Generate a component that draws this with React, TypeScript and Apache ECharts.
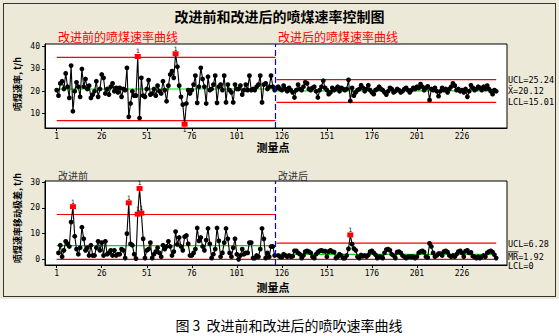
import React, { useEffect, useRef } from 'react';
import * as echarts from 'echarts';

// ---- tick values ----
const xTicks = [1, 26, 51, 76, 101, 126, 151, 176, 201, 226];
const rateTicks = [10, 20, 30, 40];
const mrTicks = [0, 10, 20, 30];

// ---- individual values (t/h), points 1..122 before improvement ----
const beforeRate = [
  20.5, 18, 23.5, 24.5, 21, 28, 22, 17, 31.5, 11,
  20, 24, 22, 17.5, 30, 22, 25.5, 21, 22.5, 17,
  18.5, 20, 24.5, 17.5, 21, 27.5, 26, 19, 21, 18.5,
  22, 23.5, 20, 21.5, 19.5, 21.5, 17.5, 21, 20.5, 30.5,
  8.5, 14.5, 20, 18, 18, 35.6, 8, 26, 18, 17.5,
  21, 25, 18.5, 19, 21, 18, 22.5, 20, 19, 24.5,
  20.5, 15.5, 22.5, 27.5, 29, 26, 36.8, 31, 22.5, 17.5,
  14, 5.2, 14.5, 20.5, 19, 20.5, 23, 27, 14.8, 22,
  30.5, 25.5, 22, 14.5, 26.5, 20.5, 21, 23, 27, 14.8,
  22, 23, 20.5, 27, 15, 23, 20.5, 19.5, 15, 23,
  21, 21, 22.5, 18.5, 20.5, 23, 20.5, 27, 20.5, 21,
  20.5, 22, 23, 27, 15, 23, 23.5, 21, 22, 27,
  22, 20.5,
];

// ---- individual values, points 123..245 after improvement ----
const afterRate = [
  21.5, 22, 21, 20.5, 22.5, 21, 20, 21.5, 20.5, 19.5,
  17.2, 20.5, 23, 21, 20.5, 22, 24, 23.5, 21, 20.5,
  21.5, 22, 20, 17.2, 20.5, 22, 24.7, 21.5, 20.5, 18.7,
  19.5, 21.5, 20.5, 21, 22, 20, 21.5, 21, 20.5, 21,
  25.1, 15.6, 21.5, 18, 19.5, 20.5, 21, 22.7, 21.5, 20,
  21, 22.7, 20.5, 19.5, 18.7, 20.5, 21, 22, 21, 20.5,
  19.5, 18.5, 20, 21.5, 21, 19.5, 20, 21, 20.5, 19.5,
  20, 21, 21.5, 20.5, 19.5, 20.5, 21.5, 21, 22, 21.5,
  23.2, 22, 20.5, 21.5, 22.2, 16, 21, 20.5, 21.5, 20,
  17.8, 20, 21.5, 20.5, 21, 19.5, 21, 22, 23.5, 22.5,
  20.5, 21, 20, 20.5, 19.5, 21, 17.5, 20, 22.7, 21.5,
  20.5, 21, 22, 21.5, 20.5, 22, 21, 22.5, 21, 20,
  18.7, 20.5, 20,
];

// ---- moving ranges ----
const beforeMR = [
  null, 2.5, 5.5, 1, 3.5, 7, 6, 5, 14.5, 20.5,
  9, 4, 2, 4.5, 12.5, 8, 3.5, 4.5, 1.5, 5.5,
  1.5, 1.5, 4.5, 7, 3.5, 6.5, 1.5, 7, 2, 2.5,
  3.5, 1.5, 3.5, 1.5, 2, 2, 4, 3.5, 0.5, 10,
  22, 6, 5.5, 2, 0.3, 17.6, 27.6, 18, 8, 0.5,
  3.5, 4, 6.5, 0.5, 2, 3, 4.5, 2.5, 1, 5.5,
  4, 5, 7, 5, 1.5, 3, 10.8, 5.8, 8.5, 5,
  3.5, 8.8, 9.3, 6, 1.5, 1.5, 2.5, 4, 12.2, 7.2,
  8.5, 5, 3.5, 7.5, 12, 6, 0.5, 2, 4, 12.2,
  7.2, 1, 2.5, 6.5, 12, 8, 2.5, 1, 4.5, 8,
  2, 0, 1.5, 4, 2, 2.5, 2.5, 6.5, 6.5, 0.5,
  0.5, 1.5, 1, 4, 12, 8, 0.5, 2.5, 1, 5,
  5, 1.5,
];
const afterMR = [
  null, 1.5, 1, 0.8, 2, 1.5, 1, 1.5, 1, 1.2,
  3.3, 3.3, 2.5, 2, 0.5, 1.5, 3, 3.3, 3, 2.5,
  1, 0.5, 2, 2.8, 3.3, 3.5, 3.2, 3.2, 1, 3,
  3.5, 3, 2.8, 0.5, 1, 2, 1.5, 0.5, 0.5, 1.5,
  4.1, 9.5, 5.9, 4.2, 3.5, 1, 0.5, 1.7, 1.2, 1.5,
  1, 1.7, 3, 3.3, 2.5, 1.8, 0.5, 1, 1, 0.5,
  2.5, 3.8, 4, 3.5, 2, 1.5, 0.5, 2.8, 3, 2.5,
  1.5, 1, 0.5, 1, 1, 1, 1, 0.5, 1, 2.5,
  3, 3.3, 2.8, 1, 0.7, 6.2, 5, 2.5, 1, 1.5,
  2.2, 2.2, 1.5, 3, 3.3, 2.8, 1.5, 1, 1.5, 1,
  2, 3, 3.3, 2.5, 1, 3.2, 3.5, 2.5, 2.7, 1.2,
  1, 0.5, 1, 0.5, 1, 1.5, 1, 2.5, 3, 3.3,
  2.8, 1.8, 0.5,
];

// ---- control limits [LCL, CL, UCL] ----
const rateLimitsBefore = [6.8, 21.0, 35.2];
const rateLimitsAfter = [15.01, 20.12, 25.24];
const mrLimitsBefore = [0, 5.34, 17.45];
const mrLimitsAfter = [0, 1.92, 6.28];
const afterStart = 123;
const stageBreak = 122.5;

const MONO = 'DejaVu Sans Mono';
const CJK = '"Noto Sans CJK SC", sans-serif';

function pointSeries(values: (number | null)[], start: number, lim: number[], g: number, withBreak: boolean) {
  const data: any[] = [];
  values.forEach((v, k) => {
    if (v == null) return;
    const i = start + k;
    const out = v > lim[2] || v < lim[0];
    if (!out) {
      data.push([i, v]);
    } else {
      data.push({
        value: [i, v],
        symbol: 'rect',
        symbolSize: [6, 5],
        itemStyle: { color: '#ff0000' },
        label: {
          show: true,
          formatter: '1',
          position: v < lim[0] ? 'bottom' : 'top',
          distance: 0,
          fontSize: 6,
          fontFamily: MONO,
          color: '#000',
        },
      });
    }
  });
  const s: any = {
    type: 'line',
    xAxisIndex: g,
    yAxisIndex: g,
    data,
    symbol: 'circle',
    symbolSize: 4.8,
    showSymbol: true,
    lineStyle: { color: '#000', width: 1.1 },
    itemStyle: { color: '#000' },
    z: 4,
    silent: true,
  };
  if (withBreak) {
    s.markLine = {
      silent: true,
      symbol: 'none',
      label: { show: false },
      lineStyle: { color: '#0000ff', type: [6, 3], width: 1.2 },
      data: [{ xAxis: stageBreak }],
    };
  }
  return s;
}

function hLine(g: number, x0: number, x1: number, y: number, color: string) {
  return {
    type: 'line',
    xAxisIndex: g,
    yAxisIndex: g,
    data: [[x0, y], [x1, y]],
    symbol: 'none',
    lineStyle: { color, width: 1.2 },
    silent: true,
    z: 2,
  };
}

function limitSeries(g: number, before: number[], after: number[]) {
  const lastI = afterStart + afterRate.length - 1;
  return [
    hLine(g, 1, stageBreak, before[0], '#ff0000'),
    hLine(g, 1, stageBreak, before[2], '#ff0000'),
    hLine(g, 1, stageBreak, before[1], '#00e000'),
    hLine(g, afterStart, lastI, after[0], '#ff0000'),
    hLine(g, afterStart, lastI, after[2], '#ff0000'),
    hLine(g, afterStart, lastI, after[1], '#00e000'),
  ];
}

function xAxis(g: number) {
  return {
    type: 'value',
    gridIndex: g,
    min: -5.5,
    max: 251,
    axisLine: { show: true, onZero: false, lineStyle: { color: '#000', width: 1 } },
    axisTick: { show: true, length: 3, customValues: xTicks, lineStyle: { color: '#000' } },
    axisLabel: { customValues: xTicks, fontSize: 8, fontFamily: MONO, color: '#000', margin: 4 },
    splitLine: { show: false },
  };
}

function yAxis(g: number, min: number, max: number, ticks: number[]) {
  return {
    type: 'value',
    gridIndex: g,
    min,
    max,
    axisLine: { show: true, onZero: false, lineStyle: { color: '#000', width: 1 } },
    axisTick: { show: true, length: 3, customValues: ticks, lineStyle: { color: '#000' } },
    axisLabel: { customValues: ticks, fontSize: 8, fontFamily: MONO, color: '#000', margin: 5 },
    splitLine: { show: false },
  };
}

function txt(x: number, y: number, text: string, size: number, opts: any = {}) {
  return {
    type: 'text',
    x,
    y,
    rotation: opts.rotation || 0,
    z: 10,
    style: {
      text,
      fontSize: size,
      fontFamily: opts.font || CJK,
      fontWeight: opts.bold ? 'bold' : 'normal',
      fill: opts.color || '#000',
      align: opts.align || 'left',
      verticalAlign: 'middle',
    },
  };
}

export default function App() {
  const ref = useRef<HTMLDivElement>(null);
  useEffect(() => {
    const chart = echarts.init(ref.current!, null, { renderer: 'svg' });
    const option: any = {
      animation: false,
      backgroundColor: 'transparent',
      grid: [
        { left: 45, top: 44, width: 462, height: 84, show: true, borderColor: '#000', borderWidth: 1, backgroundColor: '#fff' },
        { left: 45, top: 181, width: 462, height: 84, show: true, borderColor: '#000', borderWidth: 1, backgroundColor: '#fff' },
      ],
      xAxis: [xAxis(0), xAxis(1)],
      yAxis: [yAxis(0, 3.5, 41.2, rateTicks), yAxis(1, -2.2, 30.5, mrTicks)],
      series: [
        ...limitSeries(0, rateLimitsBefore, rateLimitsAfter),
        ...limitSeries(1, mrLimitsBefore, mrLimitsAfter),
        pointSeries(beforeRate, 1, rateLimitsBefore, 0, true),
        pointSeries(afterRate, afterStart, rateLimitsAfter, 0, false),
        pointSeries(beforeMR, 1, mrLimitsBefore, 1, true),
        pointSeries(afterMR, afterStart, mrLimitsAfter, 1, false),
      ],
      graphic: [
        txt(279.5, 16, '改进前和改进后的喷煤速率控制图', 14, { bold: true, align: 'center' }),
        txt(58, 36, '改进前的喷煤速率曲线', 12, { color: '#ff0000' }),
        txt(278, 36, '改进后的喷煤速率曲线', 12, { color: '#ff0000' }),
        txt(58, 175, '改进前', 10, { color: '#333' }),
        txt(278, 175, '改进后', 10, { color: '#333' }),
        txt(273, 147, '测量点', 11, { bold: true, align: 'center' }),
        txt(273, 286.5, '测量点', 11, { bold: true, align: 'center' }),
        txt(17, 84, '喷煤速率, t/h', 9, { bold: true, align: 'center', rotation: Math.PI / 2 }),
        txt(17, 218, '喷煤速率移动极差, t/h', 9, { bold: true, align: 'center', rotation: Math.PI / 2 }),
        txt(508, 80, 'UCL=25.24', 8.5, { font: MONO }),
        txt(508, 90.8, 'X̄=20.12', 8.5, { font: MONO }),
        txt(508, 102.3, 'LCL=15.01', 8.5, { font: MONO }),
        txt(508, 244.3, 'UCL=6.28', 8.5, { font: MONO }),
        txt(508, 257.3, 'MR=1.92', 8.5, { font: MONO }),
        {
          type: 'line',
          z: 10,
          shape: { x1: 508, y1: 251.8, x2: 518.5, y2: 251.8 },
          style: { stroke: '#000', lineWidth: 0.8 },
        },
        txt(508, 266.3, 'LCL=0', 8.5, { font: MONO }),
        txt(289, 325, '图 3  改进前和改进后的喷吹速率曲线', 14, { align: 'center' }),
      ],
    };
    chart.setOption(option);
    return () => chart.dispose();
  }, []);
  return (
    <div style={{ position: 'fixed', left: 0, top: 0, width: 559, height: 336, background: '#fff' }}>
      <div style={{ position: 'absolute', left: 0, top: 0, width: 559, height: 299, background: '#ECE9D8' }} />
      <div style={{ position: 'absolute', left: 3, top: 3, width: 551, height: 292, border: '1px solid #333' }} />
      <div ref={ref} style={{ position: 'absolute', left: 0, top: 0, width: 559, height: 336 }} />
    </div>
  );
}
